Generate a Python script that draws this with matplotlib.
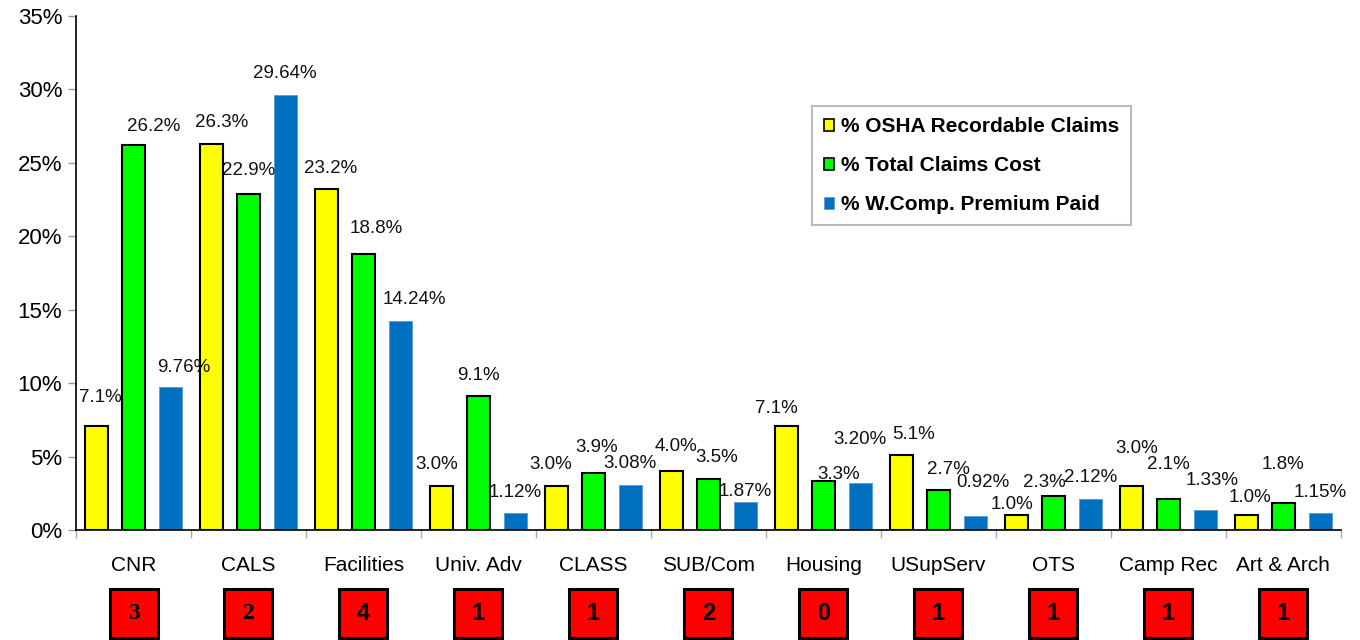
import numpy as np
import matplotlib.pyplot as plt
from matplotlib.patches import Rectangle

plt.rcParams['font.family'] = ['Liberation Sans', 'DejaVu Sans']

categories = ["CNR", "CALS", "Facilities", "Univ. Adv", "CLASS", "SUB/Com",
              "Housing", "USupServ", "OTS", "Camp Rec", "Art & Arch"]
osha = [7.1, 26.3, 23.2, 3.0, 3.0, 4.0, 7.1, 5.1, 1.0, 3.0, 1.0]
cost = [26.2, 22.9, 18.8, 9.1, 3.9, 3.5, 3.3, 2.7, 2.3, 2.1, 1.8]
premium = [9.76, 29.64, 14.24, 1.12, 3.08, 1.87, 3.20, 0.92, 2.12, 1.33, 1.15]
counts = [3, 2, 4, 1, 1, 2, 0, 1, 1, 1, 1]

series_names = ["% OSHA Recordable Claims", "% Total Claims Cost", "% W.Comp. Premium Paid"]

# nudges (px) of the value labels, as placed in the original
osha_dx = [4, 10, 4, -5, -6, 4, -10, 12, -5, 5, 3]
osha_dy = [7, 0, 0, 0, 0, 4, -4, 0, -10, 16, -3]
cost_dx = [20, 0, 13, 0, 3, 8, 15, 10, -9, 0, 0]
cost_dy = [-2, 2, 4, 0, 4, 0, -14, 0, -7, 14, 18]
premium_dx = [13, 0, 14, 0, 0, 0, 0, 8, 0, 7, 0]
premium_dy = [-2, 0, 0, 0, 0, -10, 22, 13, 0, 9, 0]

W, H = 1360, 640
fig = plt.figure(figsize=(W / 100, H / 100), dpi=100)
ax = fig.add_axes([0.0559, 0.172, 0.930, 0.803])

x = np.arange(len(categories))
step = 0.32
width = 0.2

b1 = ax.bar(x - step, osha, width, color="#FFFF00", edgecolor="black", linewidth=1.5,
            label=series_names[0])
b2 = ax.bar(x, cost, width, color="#00FF00", edgecolor="black", linewidth=1.5,
            label=series_names[1])
b3 = ax.bar(x + step, premium, width, color="#0070C0", edgecolor="#5B9BD5", linewidth=0.6,
            label=series_names[2])

for bars, vals, fmt, dxs, dys in [(b1, osha, "{:.1f}%", osha_dx, osha_dy),
                                  (b2, cost, "{:.1f}%", cost_dx, cost_dy),
                                  (b3, premium, "{:.2f}%", premium_dx, premium_dy)]:
    for rect, v, dx, dy in zip(bars, vals, dxs, dys):
        ax.annotate(fmt.format(v), (rect.get_x() + rect.get_width() / 2, v),
                    xytext=(dx * 0.72, 9 + dy * 0.72), textcoords="offset points",
                    ha="center", va="bottom", fontsize=13.5, color="#111111")

ax.set_xlim(-0.5, len(categories) - 0.5)
ax.set_ylim(0, 35)
ax.set_yticks(np.arange(0, 36, 5))
ax.set_yticklabels([f"{v}%" for v in range(0, 36, 5)], fontsize=16)
ax.tick_params(axis="y", length=6, width=1, color="#999999", pad=4)

ax.set_xticks(np.arange(-0.5, len(categories)))
ax.set_xticklabels([])
ax.tick_params(axis="x", length=6, width=1, color="#AAAAAA")
for i, name in enumerate(categories):
    ax.text(i, -2.4, name, ha="center", va="center", fontsize=15)

for sp in ["top", "right"]:
    ax.spines[sp].set_visible(False)
ax.spines["left"].set_linewidth(1.2)
ax.spines["bottom"].set_linewidth(1.2)

# red count boxes under each group
fig.canvas.draw()
for i, n in enumerate(counts):
    bx, _ = ax.transData.transform((i, 0))
    box_w, box_h = 48 / W, 49 / H
    fx = bx / W - box_w / 2
    fy = 1 - 638 / H
    fig.patches.append(Rectangle((fx, fy), box_w, box_h, transform=fig.transFigure,
                                 facecolor="#FF0000", edgecolor="black", linewidth=2.2))
    family = ["Liberation Serif"] if i < 2 else ["Liberation Sans"]
    fig.text(fx + box_w / 2, fy + box_h / 2, str(n), ha="center", va="center",
             fontsize=17, fontweight="bold", family=family)

leg = ax.legend(loc="upper left", bbox_to_anchor=(0.582, 0.825),
                prop={"weight": "bold", "size": 15}, frameon=True, fancybox=False,
                edgecolor="#AAAAAA", handlelength=0.5, handleheight=0.5,
                handletextpad=0.35, labelspacing=0.95, borderpad=0.55,
                borderaxespad=0)
leg.get_frame().set_linewidth(1.5)
for h in leg.legend_handles[:2]:
    h.set_linewidth(1.2)

fig.savefig("out.png", dpi=100)
